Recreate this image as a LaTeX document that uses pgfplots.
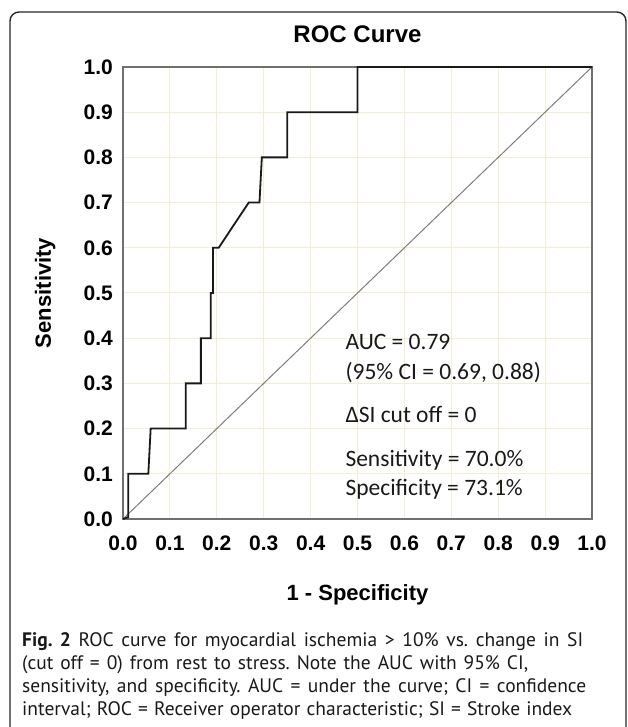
\documentclass[border=0pt]{standalone}
\usepackage{fontspec}
\setmainfont{Liberation Sans}
\newfontfamily\calibri{Carlito}
\newfontfamily\capfont{PT Sans}
\usepackage{pgfplots}
\pgfplotsset{compat=1.18}
\definecolor{gridc}{RGB}{243,237,212}
\definecolor{boxc}{RGB}{112,112,112}
\definecolor{diagc}{RGB}{125,125,125}
\definecolor{inkc}{RGB}{25,25,25}
\frenchspacing

\begin{document}
\begin{tikzpicture}
\path[use as bounding box] (-123pt,-208pt) rectangle (504pt,519pt);
\begin{scope}
  \clip (-123pt,-208pt) rectangle (504pt,519pt);
  \draw[line width=1.4pt, rounded corners=9pt, black!85]
    (-113pt,-240pt) -- (-113pt,507pt) -- (503pt,507pt) -- (503pt,-240pt);
\end{scope}
\begin{axis}[
    anchor=origin, at={(0pt,0pt)},
    scale only axis, width=469pt, height=452pt,
    xmin=0, xmax=1, ymin=0, ymax=1,
    xtick={0,0.1,0.2,0.3,0.4,0.5,0.6,0.7,0.8,0.9,1},
    ytick={0,0.1,0.2,0.3,0.4,0.5,0.6,0.7,0.8,0.9,1},
    xticklabels={0.0,0.1,0.2,0.3,0.4,0.5,0.6,0.7,0.8,0.9,1.0},
    yticklabels={0.0,0.1,0.2,0.3,0.4,0.5,0.6,0.7,0.8,0.9,1.0},
    grid=major, grid style={gridc, line width=1pt},
    major tick length=0pt,
    axis line style={boxc, line width=2pt},
    ticklabel style={font=\fontsize{21}{24}\selectfont\bfseries},
    xticklabel style={anchor=north, inner sep=0pt, yshift=-17pt},
    yticklabel style={anchor=east, inner sep=0pt, xshift=-10pt},
    title={ROC Curve},
    title style={font=\fontsize{24}{28}\selectfont\bfseries, at={(0.5,1)}, anchor=center, yshift=27pt},
    xlabel={1 - Specificity},
    xlabel style={font=\fontsize{22}{26}\selectfont\bfseries, at={(axis description cs:0.5,-0.168)}, anchor=center},
    ylabel={Sensitivity},
    ylabel style={font=\fontsize{22}{26}\selectfont\bfseries, at={(axis description cs:-0.166,0.5)}, anchor=center},
]
\addplot[diagc, line width=1pt] coordinates {(0,0) (1,1)};
\addplot[inkc, line width=1.8pt] coordinates {
  (0,0) (0.011,0.004) (0.011,0.1) (0.054,0.1) (0.059,0.2) (0.134,0.2)
  (0.134,0.3) (0.166,0.3) (0.166,0.4) (0.187,0.4) (0.187,0.5) (0.192,0.5)
  (0.192,0.6) (0.204,0.6) (0.268,0.7) (0.291,0.7) (0.296,0.8) (0.350,0.8)
  (0.350,0.9) (0.500,0.9) (0.500,1.0) (1,1)};
\begin{scope}[every node/.style={anchor=mid west, inner sep=0pt, text=inkc, font=\calibri\fontsize{23.5}{28}\selectfont}]
\node at (axis cs:0.474,0.3805) {AUC = 0.79};
\node at (axis cs:0.474,0.314) {(95\% CI = 0.69, 0.88)};
\node at (axis cs:0.474,0.219) {ΔSI cut off = 0};
\node at (axis cs:0.474,0.1217) {Sensitivity = 70.0\%};
\node at (axis cs:0.474,0.0575) {Specificity = 73.1\%};
\end{scope}
\end{axis}
\begin{scope}[every node/.style={anchor=mid west, inner sep=0pt, text=inkc, font=\capfont\fontsize{19.5}{23}\selectfont}]
\node at (-101pt,-125pt) {\makebox[561pt][s]{\textbf{Fig. 2} ROC curve for myocardial ischemia > 10\% vs. change in SI}};
\node at (-101pt,-148pt) {\makebox[506pt][s]{(cut off = 0) from rest to stress. Note the AUC with 95\% CI,}};
\node at (-101pt,-171pt) {\makebox[564pt][s]{sensitivity, and specificity. AUC = under the curve; CI = confidence}};
\node at (-101pt,-194pt) {\makebox[550pt][s]{interval; ROC = Receiver operator characteristic; SI = Stroke index}};
\end{scope}
\end{tikzpicture}
\end{document}
